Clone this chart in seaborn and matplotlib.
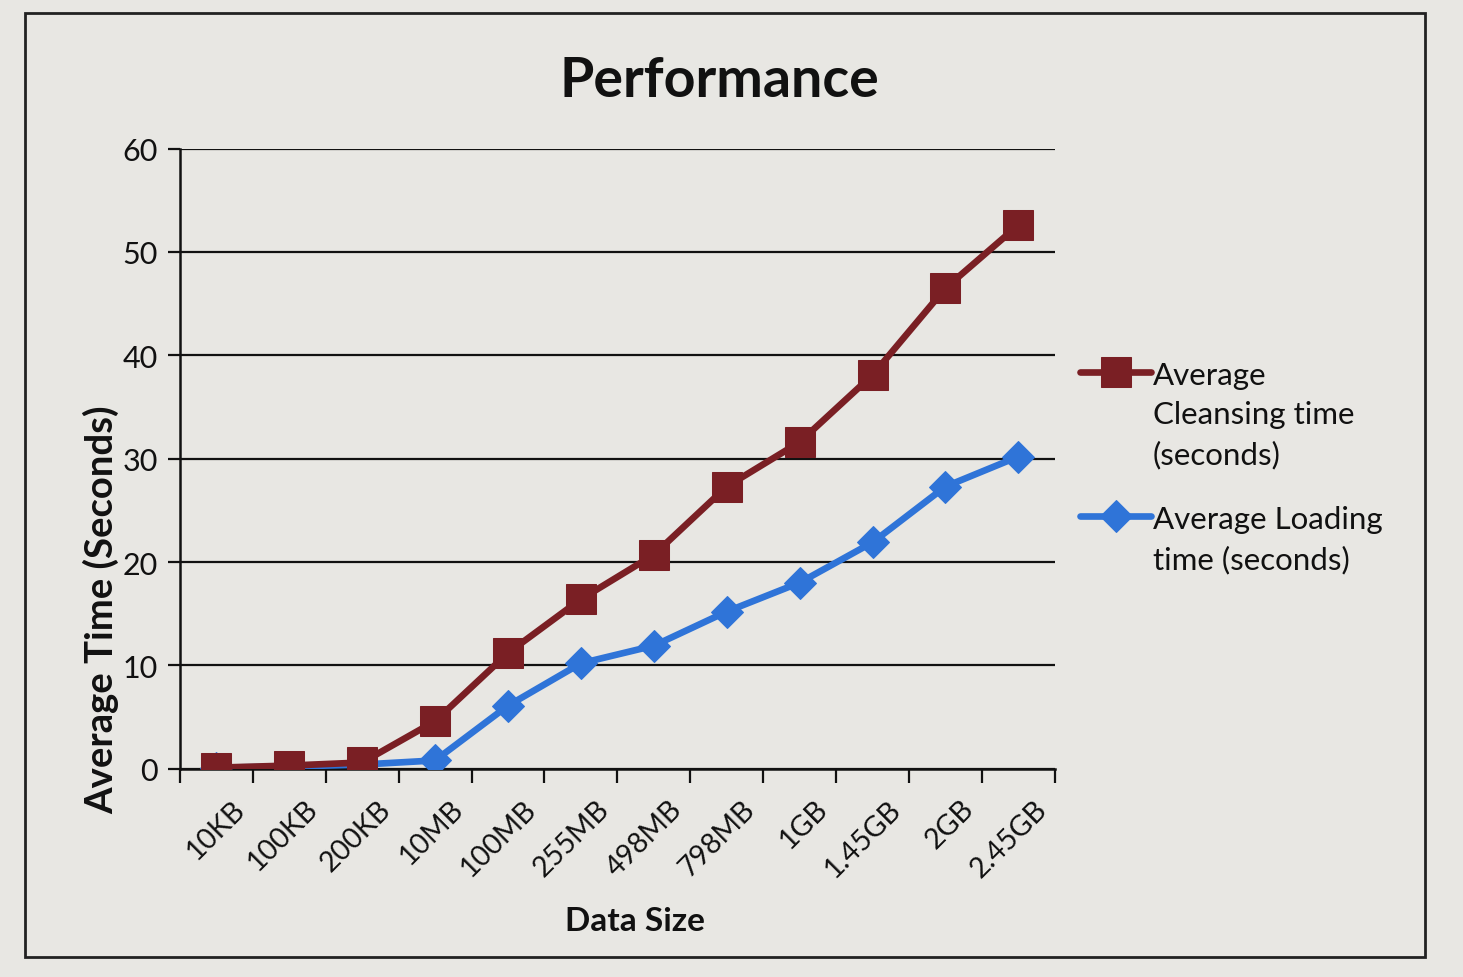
import matplotlib
matplotlib.use("Agg")
import matplotlib.pyplot as plt
from matplotlib.patches import Rectangle
from matplotlib.transforms import ScaledTranslation
import seaborn as sns
import pandas as pd

# Data sizes tested and the measured average times (seconds)
sizes = ["10KB", "100KB", "200KB", "10MB", "100MB", "255MB", "498MB",
         "798MB", "1GB", "1.45GB", "2GB", "2.45GB"]
cleansing = [0.1, 0.3, 0.6, 4.6, 11.2, 16.4, 20.7, 27.3, 31.6, 38.1, 46.5, 52.6]
loading = [0.1, 0.2, 0.4, 0.8, 6.1, 10.2, 11.9, 15.2, 18.0, 21.9, 27.3, 30.2]

cleansing_label = "Average\nCleansing time\n(seconds)"
loading_label = "Average Loading\ntime (seconds)"

sns.set_theme(style="white")
plt.rcParams["font.family"] = ["Lato", "DejaVu Sans"]

bg = "#e8e7e3"
ink = "#111111"
red = "#7a1f24"
blue = "#2f74d8"

fig = plt.figure(figsize=(14.63, 9.78), dpi=100, facecolor=bg)
ax = fig.add_axes([0.123, 0.213, 0.598, 0.634])
ax.set_facecolor(bg)

df_c = pd.DataFrame({"size": sizes, "time": cleansing})
df_l = pd.DataFrame({"size": sizes, "time": loading})

sns.lineplot(data=df_l, x="size", y="time", ax=ax, color=blue, lw=4.8,
             marker="D", markersize=16, markeredgecolor=blue,
             label=loading_label, sort=False, zorder=3)
sns.lineplot(data=df_c, x="size", y="time", ax=ax, color=red, lw=4.8,
             marker="s", markersize=21, markeredgecolor=red,
             label=cleansing_label, sort=False, zorder=4)

ax.set_ylim(0, 60)
ax.set_xlim(-0.5, len(sizes) - 0.5)
ax.set_yticks(range(0, 61, 10))
ax.yaxis.grid(True, color=ink, lw=1.6)
ax.set_axisbelow(True)

for side in ("top", "right"):
    ax.spines[side].set_visible(False)
for side in ("left", "bottom"):
    ax.spines[side].set_color(ink)
    ax.spines[side].set_linewidth(1.8)

# category ticks sit between the data points
ax.set_xticks(range(len(sizes)))
ax.set_xticklabels(sizes, rotation=45, ha="right", rotation_mode="anchor",
                   fontsize=20.5, color=ink)
ax.set_xticks([i - 0.5 for i in range(len(sizes) + 1)], minor=True)
ax.tick_params(axis="x", which="major", length=0, pad=19)
ax.tick_params(axis="x", which="minor", bottom=True, length=10, width=1.6,
               color=ink, direction="out")
ax.tick_params(axis="y", left=True, length=9, width=1.6, color=ink,
               labelsize=22, labelcolor=ink, pad=7)

# nudge the slanted category labels to the right of their points
shift = ScaledTranslation(0.15, 0, fig.dpi_scale_trans)
for tick in ax.xaxis.get_major_ticks():
    tick.label1.set_transform(tick.label1.get_transform() + shift)

ax.set_xlabel("Data Size", fontsize=24, fontweight="bold", color=ink,
              labelpad=18, x=0.52)
ax.set_ylabel("Average Time (Seconds)", fontsize=27.5, fontweight="bold",
              color=ink, labelpad=2, y=0.258)
ax.set_title("Performance", fontsize=40, fontweight="bold", color=ink,
             pad=38, x=0.617)

handles, labels = ax.get_legend_handles_labels()
order = [labels.index(cleansing_label), labels.index(loading_label)]
leg = ax.legend([handles[i] for i in order], [labels[i] for i in order],
                loc="upper left", bbox_to_anchor=(1.014, 0.678), frameon=False,
                fontsize=22.5, handlelength=2.3, handletextpad=0.05,
                labelspacing=1.15, labelcolor=ink, borderaxespad=0)
for txt in leg.get_texts():
    txt.set_linespacing(1.5)
# line each legend key up with the first line of its label
for column in leg._legend_handle_box.get_children():
    for row in column.get_children():
        row.align = "top"

# chart frame
fig.patches.append(Rectangle((25 / 1463, 1 - 958 / 978), 1400 / 1463, 944 / 978,
                             transform=fig.transFigure, fill=False,
                             edgecolor="#222222", lw=2))

fig.savefig("out.png", dpi=100, facecolor=bg)
